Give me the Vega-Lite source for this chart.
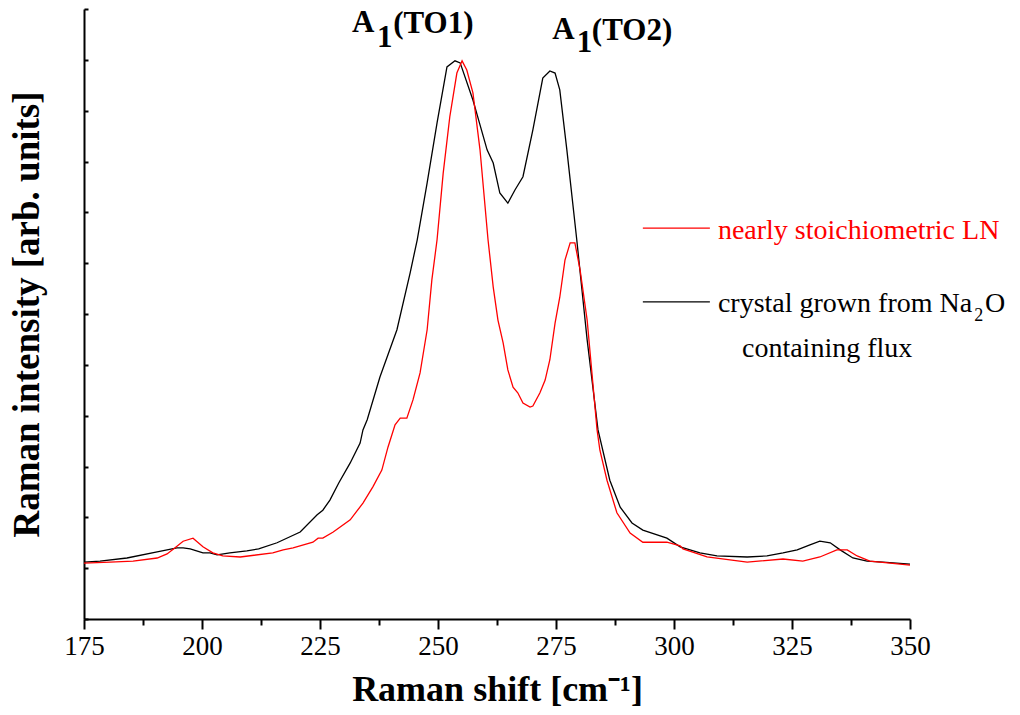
{
  "$schema": "https://vega.github.io/schema/vega-lite/v6.json",
  "width": 826,
  "height": 610,
  "autosize": {"type": "none"},
  "padding": {"left": 84, "top": 9, "right": 110, "bottom": 96},
  "background": "white",
  "config": {
    "font": "'Liberation Serif', 'Times New Roman', serif",
    "view": {"stroke": null},
    "axis": {"domainColor": "black", "domainWidth": 2, "tickColor": "black", "tickWidth": 2, "grid": false, "labelColor": "black", "titleColor": "black", "labelFont": "'Liberation Serif', 'Times New Roman', serif", "titleFont": "'Liberation Serif', 'Times New Roman', serif"}
  },
  "datasets": {
    "spectra": [
      {"x": 175, "y": 1.12, "series": "flux"}, {"x": 178.4, "y": 1.14, "series": "flux"}, {"x": 184.1, "y": 1.20, "series": "flux"}, {"x": 190.5, "y": 1.32, "series": "flux"}, {"x": 194.7, "y": 1.40, "series": "flux"}, {"x": 196.0, "y": 1.40, "series": "flux"}, {"x": 197.5, "y": 1.38, "series": "flux"}, {"x": 200.2, "y": 1.30, "series": "flux"}, {"x": 201.7, "y": 1.30, "series": "flux"}, {"x": 203.2, "y": 1.26, "series": "flux"}, {"x": 205.9, "y": 1.30, "series": "flux"}, {"x": 209.5, "y": 1.34, "series": "flux"}, {"x": 212.0, "y": 1.38, "series": "flux"}, {"x": 215.9, "y": 1.50, "series": "flux"}, {"x": 220.8, "y": 1.71, "series": "flux"}, {"x": 224.4, "y": 2.05, "series": "flux"}, {"x": 225.6, "y": 2.14, "series": "flux"}, {"x": 227.1, "y": 2.34, "series": "flux"}, {"x": 229.0, "y": 2.68, "series": "flux"}, {"x": 231.4, "y": 3.07, "series": "flux"}, {"x": 233.5, "y": 3.46, "series": "flux"}, {"x": 234.1, "y": 3.72, "series": "flux"}, {"x": 235.0, "y": 3.92, "series": "flux"}, {"x": 237.7, "y": 4.76, "series": "flux"}, {"x": 241.3, "y": 5.69, "series": "flux"}, {"x": 244.1, "y": 6.81, "series": "flux"}, {"x": 245.6, "y": 7.46, "series": "flux"}, {"x": 247.7, "y": 8.58, "series": "flux"}, {"x": 249.8, "y": 9.76, "series": "flux"}, {"x": 251.9, "y": 10.86, "series": "flux"}, {"x": 253.6, "y": 10.98, "series": "flux"}, {"x": 254.7, "y": 10.94, "series": "flux"}, {"x": 257.4, "y": 10.21, "series": "flux"}, {"x": 258.9, "y": 9.72, "series": "flux"}, {"x": 260.4, "y": 9.23, "series": "flux"}, {"x": 261.7, "y": 8.97, "series": "flux"}, {"x": 263.1, "y": 8.38, "series": "flux"}, {"x": 264.8, "y": 8.18, "series": "flux"}, {"x": 266.3, "y": 8.44, "series": "flux"}, {"x": 268.0, "y": 8.70, "series": "flux"}, {"x": 270.1, "y": 9.62, "series": "flux"}, {"x": 272.2, "y": 10.64, "series": "flux"}, {"x": 273.7, "y": 10.78, "series": "flux"}, {"x": 274.8, "y": 10.74, "series": "flux"}, {"x": 275.8, "y": 10.41, "series": "flux"}, {"x": 277.3, "y": 9.23, "series": "flux"}, {"x": 279.4, "y": 7.46, "series": "flux"}, {"x": 281.6, "y": 5.49, "series": "flux"}, {"x": 283.9, "y": 3.72, "series": "flux"}, {"x": 286.4, "y": 2.73, "series": "flux"}, {"x": 288.6, "y": 2.20, "series": "flux"}, {"x": 291.1, "y": 1.89, "series": "flux"}, {"x": 293.4, "y": 1.75, "series": "flux"}, {"x": 298.5, "y": 1.59, "series": "flux"}, {"x": 301.3, "y": 1.42, "series": "flux"}, {"x": 305.5, "y": 1.30, "series": "flux"}, {"x": 309.1, "y": 1.24, "series": "flux"}, {"x": 315.5, "y": 1.22, "series": "flux"}, {"x": 319.7, "y": 1.24, "series": "flux"}, {"x": 323.1, "y": 1.30, "series": "flux"}, {"x": 326.1, "y": 1.36, "series": "flux"}, {"x": 328.8, "y": 1.46, "series": "flux"}, {"x": 330.9, "y": 1.53, "series": "flux"}, {"x": 333.1, "y": 1.50, "series": "flux"}, {"x": 335.2, "y": 1.36, "series": "flux"}, {"x": 337.9, "y": 1.20, "series": "flux"}, {"x": 340.9, "y": 1.14, "series": "flux"}, {"x": 344.3, "y": 1.12, "series": "flux"}, {"x": 350, "y": 1.08, "series": "flux"},
      {"x": 175, "y": 1.10, "series": "stoich"}, {"x": 180.5, "y": 1.12, "series": "stoich"}, {"x": 185.4, "y": 1.14, "series": "stoich"}, {"x": 190.5, "y": 1.20, "series": "stoich"}, {"x": 192.6, "y": 1.28, "series": "stoich"}, {"x": 194.3, "y": 1.40, "series": "stoich"}, {"x": 196.0, "y": 1.53, "series": "stoich"}, {"x": 198.1, "y": 1.59, "series": "stoich"}, {"x": 200.2, "y": 1.42, "series": "stoich"}, {"x": 202.3, "y": 1.30, "series": "stoich"}, {"x": 204.4, "y": 1.24, "series": "stoich"}, {"x": 208.1, "y": 1.22, "series": "stoich"}, {"x": 215.0, "y": 1.30, "series": "stoich"}, {"x": 217.2, "y": 1.36, "series": "stoich"}, {"x": 219.3, "y": 1.40, "series": "stoich"}, {"x": 223.5, "y": 1.51, "series": "stoich"}, {"x": 224.6, "y": 1.59, "series": "stoich"}, {"x": 225.6, "y": 1.59, "series": "stoich"}, {"x": 227.8, "y": 1.71, "series": "stoich"}, {"x": 231.4, "y": 1.95, "series": "stoich"}, {"x": 234.1, "y": 2.28, "series": "stoich"}, {"x": 236.2, "y": 2.60, "series": "stoich"}, {"x": 238.1, "y": 2.93, "series": "stoich"}, {"x": 239.4, "y": 3.38, "series": "stoich"}, {"x": 240.9, "y": 3.82, "series": "stoich"}, {"x": 242.0, "y": 3.95, "series": "stoich"}, {"x": 243.4, "y": 3.95, "series": "stoich"}, {"x": 244.7, "y": 4.31, "series": "stoich"}, {"x": 246.2, "y": 4.84, "series": "stoich"}, {"x": 247.7, "y": 5.69, "series": "stoich"}, {"x": 248.7, "y": 6.67, "series": "stoich"}, {"x": 249.8, "y": 7.46, "series": "stoich"}, {"x": 251.1, "y": 8.77, "series": "stoich"}, {"x": 252.5, "y": 9.88, "series": "stoich"}, {"x": 254.0, "y": 10.74, "series": "stoich"}, {"x": 255.1, "y": 10.98, "series": "stoich"}, {"x": 256.1, "y": 10.80, "series": "stoich"}, {"x": 257.4, "y": 10.35, "series": "stoich"}, {"x": 258.9, "y": 9.23, "series": "stoich"}, {"x": 260.6, "y": 7.46, "series": "stoich"}, {"x": 261.7, "y": 6.53, "series": "stoich"}, {"x": 262.7, "y": 5.88, "series": "stoich"}, {"x": 263.8, "y": 5.43, "series": "stoich"}, {"x": 264.8, "y": 4.90, "series": "stoich"}, {"x": 265.9, "y": 4.56, "series": "stoich"}, {"x": 266.9, "y": 4.45, "series": "stoich"}, {"x": 268.0, "y": 4.25, "series": "stoich"}, {"x": 269.5, "y": 4.17, "series": "stoich"}, {"x": 270.1, "y": 4.19, "series": "stoich"}, {"x": 271.6, "y": 4.45, "series": "stoich"}, {"x": 272.7, "y": 4.70, "series": "stoich"}, {"x": 273.7, "y": 5.10, "series": "stoich"}, {"x": 274.8, "y": 5.82, "series": "stoich"}, {"x": 275.8, "y": 6.33, "series": "stoich"}, {"x": 276.9, "y": 7.06, "series": "stoich"}, {"x": 278.0, "y": 7.40, "series": "stoich"}, {"x": 279.0, "y": 7.40, "series": "stoich"}, {"x": 280.1, "y": 6.87, "series": "stoich"}, {"x": 281.6, "y": 5.88, "series": "stoich"}, {"x": 283.7, "y": 3.72, "series": "stoich"}, {"x": 284.3, "y": 3.32, "series": "stoich"}, {"x": 285.8, "y": 2.73, "series": "stoich"}, {"x": 287.9, "y": 2.09, "series": "stoich"}, {"x": 290.7, "y": 1.69, "series": "stoich"}, {"x": 293.4, "y": 1.51, "series": "stoich"}, {"x": 296.4, "y": 1.51, "series": "stoich"}, {"x": 298.5, "y": 1.51, "series": "stoich"}, {"x": 301.3, "y": 1.44, "series": "stoich"}, {"x": 301.9, "y": 1.38, "series": "stoich"}, {"x": 307.0, "y": 1.22, "series": "stoich"}, {"x": 315.5, "y": 1.12, "series": "stoich"}, {"x": 323.1, "y": 1.18, "series": "stoich"}, {"x": 327.3, "y": 1.14, "series": "stoich"}, {"x": 330.9, "y": 1.22, "series": "stoich"}, {"x": 334.5, "y": 1.36, "series": "stoich"}, {"x": 336.7, "y": 1.36, "series": "stoich"}, {"x": 338.8, "y": 1.24, "series": "stoich"}, {"x": 341.5, "y": 1.14, "series": "stoich"}, {"x": 345.8, "y": 1.10, "series": "stoich"}, {"x": 350, "y": 1.06, "series": "stoich"}
    ],
    "peaks": [
      {"x": 231.8, "y": 11.55, "text": "A"}, {"x": 237.1, "y": 11.25, "text": "1"}, {"x": 240.5, "y": 11.53, "text": "(TO1)"},
      {"x": 274.2, "y": 11.41, "text": "A"}, {"x": 279.4, "y": 11.15, "text": "1"}, {"x": 282.6, "y": 11.39, "text": "(TO2)"}
    ],
    "legendLines": [
      {"x": 293.4, "x2": 307.6, "y": 7.69, "series": "stoich"},
      {"x": 293.4, "x2": 307.6, "y": 6.24, "series": "flux"}
    ],
    "legendText": [
      {"x": 309.3, "y": 7.48, "text": "nearly stoichiometric LN", "series": "stoich"},
      {"x": 309.3, "y": 6.04, "text": "crystal grown from Na", "series": "flux"},
      {"x": 365.9, "y": 6.04, "text": "O", "series": "flux"},
      {"x": 314.4, "y": 5.15, "text": "containing flux", "series": "flux"}
    ],
    "legendSub": [
      {"x": 363.6, "y": 5.86, "text": "2", "series": "flux"}
    ]
  },
  "layer": [
    {
      "data": {"name": "spectra"},
      "transform": [{"filter": "datum.series === 'flux'"}],
      "mark": {"type": "line", "color": "black", "strokeWidth": 1.3, "clip": true},
      "encoding": {
        "x": {"field": "x", "type": "quantitative", "scale": {"domain": [175, 350], "nice": false, "zero": false},
          "axis": {
            "values": [175, 187.5, 200, 212.5, 225, 237.5, 250, 262.5, 275, 287.5, 300, 312.5, 325, 337.5, 350],
            "labelExpr": "datum.value % 25 === 0 ? datum.label : ''",
            "tickSize": {"condition": {"test": "datum.value % 25 === 0", "value": 10}, "value": 6},
            "labelFontSize": 27, "labelPadding": 4, "labelFlush": false, "labelOverlap": false,
            "title": "Raman shift [cm⁻¹]", "titleFontSize": 36, "titleFontWeight": "bold",
            "titleBaseline": "alphabetic", "titleY": 81
          }},
        "y": {"field": "y", "type": "quantitative", "scale": {"domain": [0, 12], "nice": false, "zero": false},
          "axis": {
            "values": [0, 1, 2, 3, 4, 5, 6, 7, 8, 9, 10, 11, 12],
            "labels": false, "tickSize": -4,
            "title": "Raman intensity [arb. units]", "titleFontSize": 37, "titleFontWeight": "bold",
            "titleAngle": -90, "titleBaseline": "alphabetic", "titleX": -46, "titleY": 305, "titleAlign": "center"
          }}
      }
    },
    {
      "data": {"name": "spectra"},
      "transform": [{"filter": "datum.series === 'stoich'"}],
      "mark": {"type": "line", "color": "#ff0000", "strokeWidth": 1.3, "clip": true},
      "encoding": {
        "x": {"field": "x", "type": "quantitative"},
        "y": {"field": "y", "type": "quantitative"}
      }
    },
    {
      "data": {"name": "peaks"},
      "mark": {"type": "text", "font": "'Liberation Serif', 'Times New Roman', serif", "fontWeight": "bold", "fontSize": 31, "align": "left", "baseline": "alphabetic", "color": "black"},
      "encoding": {
        "x": {"field": "x", "type": "quantitative"},
        "y": {"field": "y", "type": "quantitative"},
        "text": {"field": "text"}
      }
    },
    {
      "data": {"name": "legendLines"},
      "mark": {"type": "rule", "strokeWidth": 1.3},
      "encoding": {
        "x": {"field": "x", "type": "quantitative"},
        "x2": {"field": "x2"},
        "y": {"field": "y", "type": "quantitative"},
        "color": {"field": "series", "type": "nominal", "scale": {"domain": ["stoich", "flux"], "range": ["#ff0000", "black"]}, "legend": null}
      }
    },
    {
      "data": {"name": "legendText"},
      "mark": {"type": "text", "font": "'Liberation Serif', 'Times New Roman', serif", "fontSize": 28, "align": "left", "baseline": "alphabetic"},
      "encoding": {
        "x": {"field": "x", "type": "quantitative"},
        "y": {"field": "y", "type": "quantitative"},
        "text": {"field": "text"},
        "color": {"field": "series", "type": "nominal", "legend": null}
      }
    },
    {
      "data": {"name": "legendSub"},
      "mark": {"type": "text", "font": "'Liberation Serif', 'Times New Roman', serif", "fontSize": 18, "align": "left", "baseline": "alphabetic"},
      "encoding": {
        "x": {"field": "x", "type": "quantitative"},
        "y": {"field": "y", "type": "quantitative"},
        "text": {"field": "text"},
        "color": {"field": "series", "type": "nominal", "legend": null}
      }
    }
  ]
}
